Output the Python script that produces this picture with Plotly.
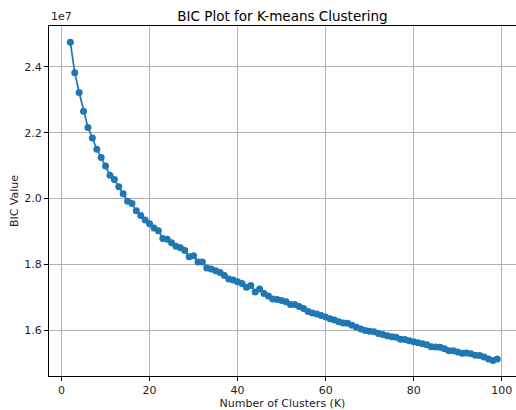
import plotly.graph_objects as go

# Number of clusters evaluated
k_values = list(range(2, 100))

# BIC score for each K (raw values)
bic_values = [
    2.474e7, 2.382e7, 2.322e7, 2.265e7, 2.216e7, 2.184e7, 2.150e7, 2.125e7,
    2.099e7, 2.071e7, 2.058e7, 2.036e7, 2.015e7, 1.992e7, 1.985e7, 1.963e7,
    1.949e7, 1.935e7, 1.924e7, 1.911e7, 1.903e7, 1.879e7, 1.877e7, 1.866e7,
    1.856e7, 1.851e7, 1.843e7, 1.824e7, 1.827e7, 1.808e7, 1.808e7, 1.790e7,
    1.787e7, 1.781e7, 1.776e7, 1.767e7, 1.756e7, 1.753e7, 1.748e7, 1.743e7,
    1.731e7, 1.737e7, 1.717e7, 1.726e7, 1.712e7, 1.705e7, 1.696e7, 1.694e7,
    1.691e7, 1.687e7, 1.679e7, 1.679e7, 1.673e7, 1.667e7, 1.658e7, 1.653e7,
    1.650e7, 1.646e7, 1.641e7, 1.636e7, 1.632e7, 1.627e7, 1.623e7, 1.622e7,
    1.616e7, 1.610e7, 1.605e7, 1.600e7, 1.598e7, 1.596e7, 1.591e7, 1.588e7,
    1.584e7, 1.581e7, 1.580e7, 1.574e7, 1.573e7, 1.569e7, 1.566e7, 1.563e7,
    1.560e7, 1.557e7, 1.551e7, 1.550e7, 1.549e7, 1.545e7, 1.539e7, 1.539e7,
    1.535e7, 1.531e7, 1.532e7, 1.530e7, 1.525e7, 1.524e7, 1.520e7, 1.514e7,
    1.509e7, 1.514e7,
]

# Axis ticks (values shown in units of 1e7)
x_ticks = [0, 20, 40, 60, 80, 100]
y_ticks = [1.6e7, 1.8e7, 2.0e7, 2.2e7, 2.4e7]
y_tick_text = ["1.6", "1.8", "2.0", "2.2", "2.4"]

FONT = "DejaVu Sans"
GRID = "#b0b0b0"

fig = go.Figure()
fig.add_trace(go.Scatter(
    x=k_values,
    y=bic_values,
    mode="lines+markers",
    line=dict(color="#1f77b4", width=1.7),
    marker=dict(color="#1f77b4", size=7),
    showlegend=False,
))

fig.update_layout(
    width=516,
    height=410,
    margin=dict(l=49, r=0, t=26, b=34),
    paper_bgcolor="white",
    plot_bgcolor="white",
    font=dict(family=FONT, size=11, color="black"),
    title=dict(
        text="BIC Plot for K-means Clustering",
        font=dict(family=FONT, size=13.5, color="black"),
        x=0.5, xref="paper", xanchor="center",
        y=1 - 16 / 410, yref="container", yanchor="middle",
    ),
)

fig.update_xaxes(
    range=[-2.85, 103.25],
    tickvals=x_ticks,
    ticks="outside", ticklen=4, tickwidth=0.9, tickcolor="black",
    showgrid=True, gridcolor=GRID, gridwidth=0.9,
    showline=True, linecolor="black", linewidth=0.9, mirror=True,
    zeroline=False,
    tickfont=dict(family=FONT, size=11, color="#222"),
    title=dict(text="Number of Clusters (K)", standoff=4,
               font=dict(family=FONT, size=11, color="#222")),
)

fig.update_yaxes(
    range=[1.4622e7, 2.5235e7],
    tickvals=y_ticks, ticktext=y_tick_text,
    ticks="outside", ticklen=4, tickwidth=0.9, tickcolor="black",
    showgrid=True, gridcolor=GRID, gridwidth=0.9,
    showline=True, linecolor="black", linewidth=0.9, mirror=False,
    zeroline=False,
    tickfont=dict(family=FONT, size=11, color="#222"),
    title=dict(text="BIC Value", standoff=3,
               font=dict(family=FONT, size=11, color="#222")),
)

# Scale factor label above the y axis
fig.add_annotation(
    text="1e7", xref="paper", yref="paper", x=0, y=1,
    xanchor="left", yanchor="bottom", showarrow=False, yshift=1,
    font=dict(family=FONT, size=11, color="#222"),
)

fig.write_html("out.html")
